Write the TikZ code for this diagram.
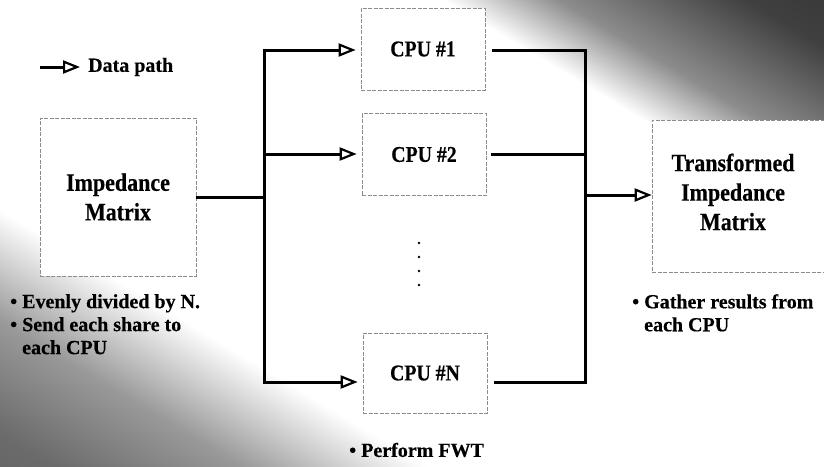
\documentclass[tikz,border=0pt]{standalone}
\usepackage{fontspec}
\setmainfont{Liberation Serif}[FakeBold=0.4]
\newfontfamily\boxfont{Liberation Serif}[FakeStretch=0.88, FakeBold=0.4]
\usetikzlibrary{arrows.meta}
\pgfdeclarehorizontalshading{diagband}{100bp}{color(0bp)=(black!70); color(18bp)=(black!58); color(26bp)=(black!40); color(34bp)=(white); color(68bp)=(white); color(73bp)=(black!45); color(81bp)=(black!75); color(100bp)=(black!88)}
\tikzset{
  boxline/.style={draw=black!45, line width=0.7pt, dash pattern=on 4pt off 1.5pt, fill=white},
  conn/.style={line width=3pt, black},
  arr/.style={-{Triangle[fill=white, length=17pt, width=13pt, line width=2.2pt]}},
  lbl/.style={font=\bfseries\fontsize{20}{23}\selectfont, inner sep=0pt},
  cpulbl/.style={font=\boxfont\bfseries\fontsize{22.5}{26}\selectfont, inner sep=0pt},
  biglbl/.style={font=\boxfont\bfseries\fontsize{25}{29.5}\selectfont, align=center, inner sep=0pt},
}
\begin{document}
\begin{tikzpicture}[x=1pt, y=-1pt]
\useasboundingbox (0,0) rectangle (824,466);
\shade[shading=diagband, shading angle=59] (0,0) rectangle (824,466);

% boxes
\node[boxline, biglbl, minimum width=156, minimum height=158] (imp) at (118,197) {Impedance\\Matrix};
\node[boxline, cpulbl, minimum width=124, minimum height=82] (cpu1) at (423,49) {CPU \#1};
\node[boxline, cpulbl, minimum width=124, minimum height=82] (cpu2) at (424,154.5) {CPU \#2};
\node[boxline, cpulbl, minimum width=124, minimum height=80] (cpun) at (425,373) {CPU \#N};
\node[boxline, minimum width=178, minimum height=152] (trans) at (741,196) {};
\node[biglbl] (transtxt) at (733,192) {Transformed\\Impedance\\Matrix};

% dots
\foreach \yy in {243,257,271,285} \fill (419,\yy) circle (1.3);

% left distribution
\coordinate (jl) at (264,197);
\coordinate (b1) at (264,50);
\coordinate (b2) at (264,154);
\coordinate (bn) at (264,382);
\draw[conn] (imp.east) -- (jl);
\draw[conn, arr, shorten >=5pt] (bn) -- (b1) -- (b1 -| cpu1.west);
\draw[conn, arr, shorten >=5pt] (b2) -- (bn) -- (bn -| cpun.west);
\draw[conn, arr, shorten >=5pt] (b2) -- (b2 -| cpu2.west);

% right gathering
\coordinate (r1) at (585,50);
\coordinate (r2) at (585,154);
\coordinate (rn) at (585,382);
\coordinate (rm) at (585,195);
\draw[conn, shorten <=7pt, shorten >=7pt] (r1 -| cpu1.east) -- (r1) -- (rn) -- (rn -| cpun.east);
\draw[conn, shorten <=5pt] (r2 -| cpu2.east) -- (r2);
\draw[conn, arr] (rm) -- (rm -| trans.west);

% legend
\coordinate (lg0) at (40,67);
\coordinate (lg1) at (80,67);
\draw[conn, arr] (lg0) -- (lg1);
\node[lbl, anchor=west] (lgtxt) at (88,67) {Data path};

% notes
\node[lbl, anchor=north west, align=left] (note1) at (10,294) {• Evenly divided by N.\\• Send each share to\\\phantom{•~}each CPU};
\node[lbl, anchor=north west, align=left] (note2) at (632,294) {• Gather results from\\\phantom{•~}each CPU};
\node[lbl, anchor=west] (note3) at (349,450) {• Perform FWT};
\end{tikzpicture}
\end{document}
